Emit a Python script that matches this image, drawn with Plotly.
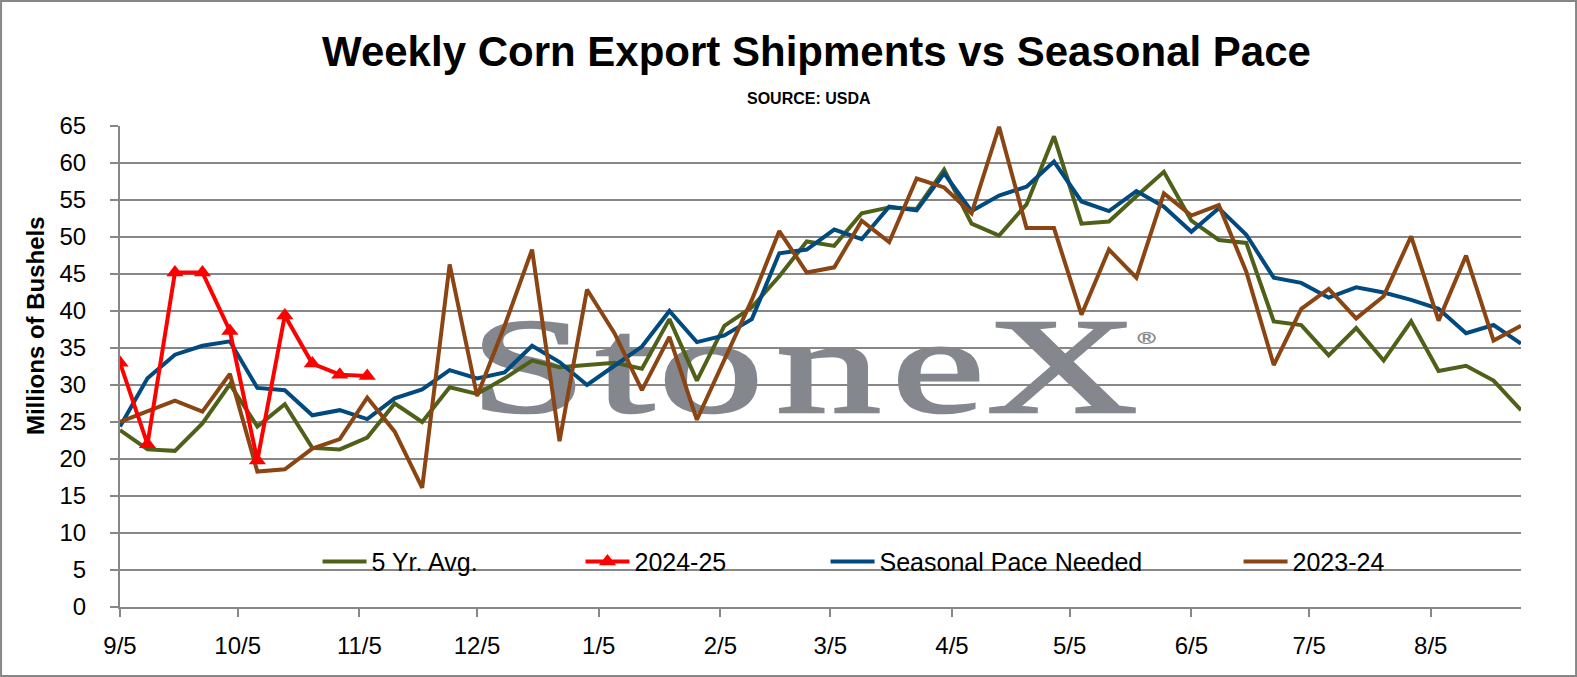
import pandas as pd
import plotly.graph_objects as go
from urllib.parse import quote

# weekly marketing-year dates (Thursdays), 9/5 through 8/28
weeks = pd.date_range("2024-09-05", periods=52, freq="7D")

avg_5yr = [23.9, 21.3, 21.1, 24.8, 30.1, 24.4, 27.4, 21.5, 21.3, 22.9,
           27.5, 25.0, 29.7, 28.8, 30.9, 33.3, 32.4, 32.7, 33.0, 32.2,
           38.9, 30.6, 38.0, 40.5, 44.7, 49.4, 48.8, 53.2, 54.0, 53.8,
           59.1, 51.8, 50.2, 54.4, 63.6, 51.8, 52.1, 55.5, 58.8, 52.2,
           49.6, 49.2, 38.6, 38.1, 34.0, 37.7, 33.3, 38.6, 31.9, 32.6,
           30.6, 26.6]
ytd_2425 = [33.0, 22.0, 45.2, 45.2, 37.3, 19.8, 39.4, 32.9, 31.4, 31.2]
pace_needed = [24.4, 30.9, 34.1, 35.3, 35.9, 29.6, 29.3, 25.9, 26.6, 25.4,
               28.2, 29.4, 32.0, 30.9, 31.7, 35.3, 33.1, 30.0, 32.6, 35.2,
               40.0, 35.8, 36.7, 38.9, 47.8, 48.3, 51.0, 49.7, 54.1, 53.6,
               58.6, 53.5, 55.6, 56.8, 60.2, 54.8, 53.5, 56.2, 54.1, 50.7,
               53.9, 50.3, 44.5, 43.8, 41.8, 43.2, 42.5, 41.5, 40.3, 37.0,
               38.1, 35.6]
prev_2324 = [25.0, 26.5, 27.9, 26.4, 31.5, 18.3, 18.6, 21.4, 22.7, 28.3,
             23.7, 16.1, 46.3, 28.5, 38.0, 48.3, 22.4, 42.9, 37.0, 29.3,
             36.5, 25.3, 33.5, 41.5, 50.8, 45.2, 45.9, 52.2, 49.3, 57.9,
             56.7, 53.2, 64.9, 51.2, 51.2, 39.5, 48.3, 44.5, 55.9, 52.9,
             54.3, 45.3, 32.7, 40.3, 43.0, 39.0, 42.0, 50.1, 38.7, 47.5,
             36.0, 38.0]

tick_dates = ["2024-09-05", "2024-10-05", "2024-11-05", "2024-12-05",
              "2025-01-05", "2025-02-05", "2025-03-05", "2025-04-05",
              "2025-05-05", "2025-06-05", "2025-07-05", "2025-08-05"]
tick_text = ["9/5", "10/5", "11/5", "12/5", "1/5", "2/5", "3/5", "4/5",
             "5/5", "6/5", "7/5", "8/5"]

FONT = "Liberation Sans, Arial, sans-serif"
GRID = "#878787"

fig = go.Figure()
fig.add_trace(go.Scatter(x=weeks, y=avg_5yr, name="5 Yr. Avg.", mode="lines",
                         line=dict(color="#4F6118", width=4), legend="legend"))
fig.add_trace(go.Scatter(x=weeks, y=pace_needed, name="Seasonal Pace Needed", mode="lines",
                         line=dict(color="#004A80", width=4), legend="legend3"))
fig.add_trace(go.Scatter(x=weeks, y=prev_2324, name="2023-24", mode="lines",
                         line=dict(color="#8B4513", width=4), legend="legend4"))
fig.add_trace(go.Scatter(x=weeks[:len(ytd_2425)], y=ytd_2425, name="2024-25",
                         mode="lines+markers",
                         line=dict(color="#FF0000", width=4),
                         marker=dict(symbol="triangle-up", size=15, color="#FF0000"),
                         legend="legend2"))

# StoneX watermark, drawn behind the grid
letters = "".join(
    f"<text x='{cx}' y='122' text-anchor='middle'>{ch}</text>"
    for ch, cx in zip("StoneX", [31, 93.5, 149, 224.8, 295.5, 375.5]))
logo_svg = (
    "<svg xmlns='http://www.w3.org/2000/svg' width='680' height='130' viewBox='0 0 680 130'>"
    "<g transform='scale(1.55,1)' fill='#84878D' stroke='#84878D' stroke-width='2.5'"
    " font-family='Liberation Serif' font-size='135'>"
    + letters +
    "<text x='430' y='54' text-anchor='middle' stroke-width='0.4'"
    " font-family='Liberation Sans' font-size='16'>&#174;</text>"
    "</g></svg>"
)
fig.add_layout_image(dict(source="data:image/svg+xml;charset=utf-8," + quote(logo_svg),
                          xref="paper", yref="paper", x=0.257, y=0.659,
                          sizex=0.4854, sizey=0.2703, sizing="stretch",
                          xanchor="left", yanchor="top", layer="below"))

leg = dict(orientation="h", font=dict(family=FONT, size=25, color="black"),
           bgcolor="rgba(0,0,0,0)", yanchor="middle", y=0.094, xanchor="left",
           itemwidth=44, tracegroupgap=0)
fig.update_layout(
    width=1577, height=677,
    margin=dict(l=120, r=56, t=126, b=70),
    paper_bgcolor="white", plot_bgcolor="rgba(0,0,0,0)",
    font=dict(family=FONT, size=24, color="black"),
    showlegend=True,
    legend=dict(leg, x=0.1410),
    legend2=dict(leg, x=0.3287),
    legend3=dict(leg, x=0.5036),
    legend4=dict(leg, x=0.7984),
    xaxis=dict(type="date", range=[weeks[0], weeks[-1]],
               tickvals=tick_dates, ticktext=tick_text,
               showgrid=False, showline=True, linecolor=GRID, linewidth=2,
               ticks="outside", ticklen=8, tickwidth=2, tickcolor=GRID,
               ticklabelstandoff=8, tickfont=dict(size=24)),
    yaxis=dict(range=[0, 65], dtick=5, tick0=0,
               showgrid=True, gridcolor=GRID, gridwidth=2,
               showline=True, linecolor=GRID, linewidth=2,
               ticks="outside", ticklen=8, tickwidth=2, tickcolor=GRID,
               ticklabelstandoff=19, tickfont=dict(size=24), zeroline=False),
    annotations=[
        dict(text="<b>Weekly Corn Export Shipments vs Seasonal Pace</b>",
             xref="paper", yref="paper", x=0.4968, y=1.154, showarrow=False,
             xanchor="center", yanchor="middle", font=dict(size=42)),
        dict(text="<b>SOURCE: USDA</b>",
             xref="paper", yref="paper", x=0.4918, y=1.058, showarrow=False,
             xanchor="center", yanchor="middle", font=dict(size=16)),
        dict(text="<b>Millions of Bushels</b>", textangle=-90,
             xref="paper", yref="paper", x=-0.0607, y=0.586, showarrow=False,
             xanchor="center", yanchor="middle", font=dict(size=24)),
    ],
    shapes=[dict(type="rect", xref="paper", yref="paper",
                 x0=-0.0849, x1=1.0393, y0=-0.1435, y1=1.26,
                 line=dict(color="#868686", width=2), layer="below")],
)

fig.write_html("out.html", config={"displayModeBar": False},
               post_script="document.body.style.margin='0px';"
                           "document.body.style.overflow='hidden';"
                           "document.documentElement.style.overflow='hidden';")
